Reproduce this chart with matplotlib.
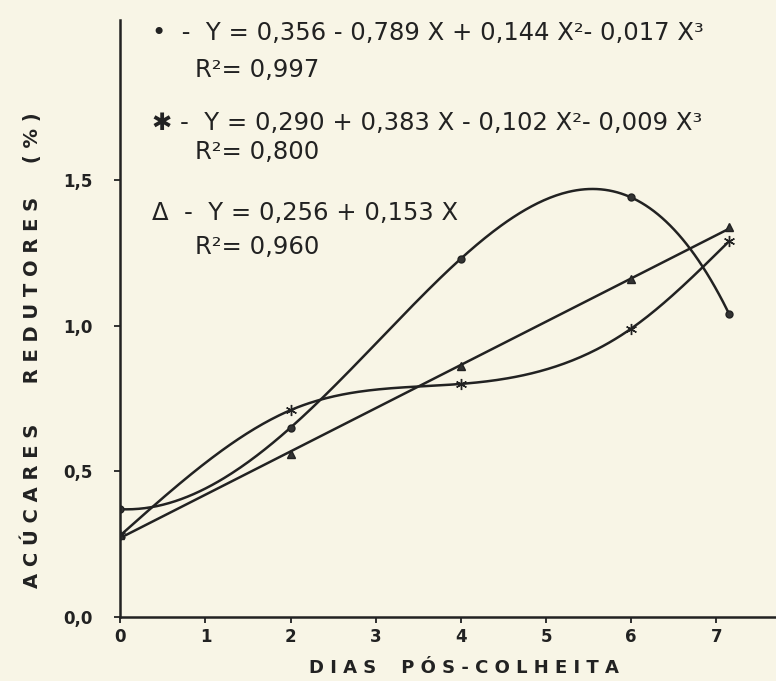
import matplotlib.pyplot as plt
import numpy as np

# dias pos-colheita and acucares redutores (%)
dias = [0, 2, 4, 6, 7.15]
circulo = [0.37, 0.65, 1.23, 1.44, 1.04]
estrela = [0.28, 0.71, 0.80, 0.99, 1.29]
triangulo = [0.28, 0.56, 0.86, 1.16, 1.34]

eq_circulo = ["•  -  Y = 0,356 - 0,789 X + 0,144 X²- 0,017 X³", "R²= 0,997"]
eq_estrela = ["✱ -  Y = 0,290 + 0,383 X - 0,102 X²- 0,009 X³", "R²= 0,800"]
eq_triangulo = ["Δ  -  Y = 0,256 + 0,153 X", "R²= 0,960"]

x_ticks = [0, 1, 2, 3, 4, 5, 6, 7]
y_ticks = [0.0, 0.5, 1.0, 1.5]
y_tick_labels = ["0,0", "0,5", "1,0", "1,5"]

bg = "#f8f5e6"
ink = "#222222"


def spline(x, y, xs):
    # spline cubico natural pelos pontos (curva lisa como o desenho a mao)
    x = np.asarray(x, float)
    y = np.asarray(y, float)
    n = len(x)
    h = np.diff(x)
    A = np.zeros((n, n))
    b = np.zeros(n)
    A[0, 0] = A[-1, -1] = 1
    for k in range(1, n - 1):
        A[k, k - 1] = h[k - 1]
        A[k, k] = 2 * (h[k - 1] + h[k])
        A[k, k + 1] = h[k]
        b[k] = 6 * ((y[k + 1] - y[k]) / h[k] - (y[k] - y[k - 1]) / h[k - 1])
    M = np.linalg.solve(A, b)
    i = np.clip(np.searchsorted(x, xs) - 1, 0, n - 2)
    a = x[i + 1] - xs
    c = xs - x[i]
    hi = h[i]
    return (M[i] * a**3 + M[i + 1] * c**3) / (6 * hi) + (y[i] / hi - M[i] * hi / 6) * a \
        + (y[i + 1] / hi - M[i + 1] * hi / 6) * c


fig = plt.figure(figsize=(7.76, 6.81), dpi=100, facecolor=bg)
ax = fig.add_axes([0.155, 0.094, 0.845, 0.877], facecolor=bg)

xs = np.linspace(0, dias[-1], 300)
ax.plot(xs, np.polyval(np.polyfit(dias, circulo, 4), xs), color=ink, lw=1.8)
ax.plot(xs, spline(dias, estrela, xs), color=ink, lw=1.8)
ax.plot(xs, np.polyval(np.polyfit(dias, triangulo, 1), xs), color=ink, lw=1.8)

ax.plot(dias, circulo, linestyle="none", marker="o", ms=5, color="#333333", mec=ink)
ax.plot(dias, estrela, linestyle="none", marker=(6, 2, 0), ms=8, color="#333333", mec=ink)
ax.plot(dias, triangulo, linestyle="none", marker="^", ms=6, color="#333333", mec=ink)

ax.set_xlim(0, 7.7)
ax.set_ylim(0, 2.05)
for s in ["top", "right"]:
    ax.spines[s].set_visible(False)
for s in ["left", "bottom"]:
    ax.spines[s].set_linewidth(1.8)
    ax.spines[s].set_color(ink)

ax.set_xticks(x_ticks)
ax.set_xticklabels([str(t) for t in x_ticks], fontsize=12, fontweight="bold", color=ink)
ax.set_yticks(y_ticks)
ax.set_yticklabels(y_tick_labels, fontsize=12, fontweight="bold", color=ink)
ax.tick_params(axis="y", length=4, width=1.3, color=ink, pad=16)
ax.tick_params(axis="x", length=4, width=1.3, color=ink, pad=4)

fig.text(464 / 776, 1 - 668 / 681, "D I A S    P Ó S - C O L H E I T A", fontsize=13,
         fontweight="bold", color=ink, ha="center", va="center")
fig.text(31 / 776, 1 - 350 / 681, "A C Ú C A R E S      R E D U T O R E S     ( % )", fontsize=14,
         fontweight="bold", color=ink, ha="center", va="center", rotation=90)

fs = 17.5
def eq(linhas, y0, y1):
    fig.text(152 / 776, 1 - y0 / 681, linhas[0], fontsize=fs, color=ink, va="center")
    fig.text(195 / 776, 1 - y1 / 681, linhas[1], fontsize=fs, color=ink, va="center")

eq(eq_circulo, 33, 70)
eq(eq_estrela, 123, 152)
eq(eq_triangulo, 213, 247)

fig.savefig("out.png", dpi=100, facecolor=bg)
